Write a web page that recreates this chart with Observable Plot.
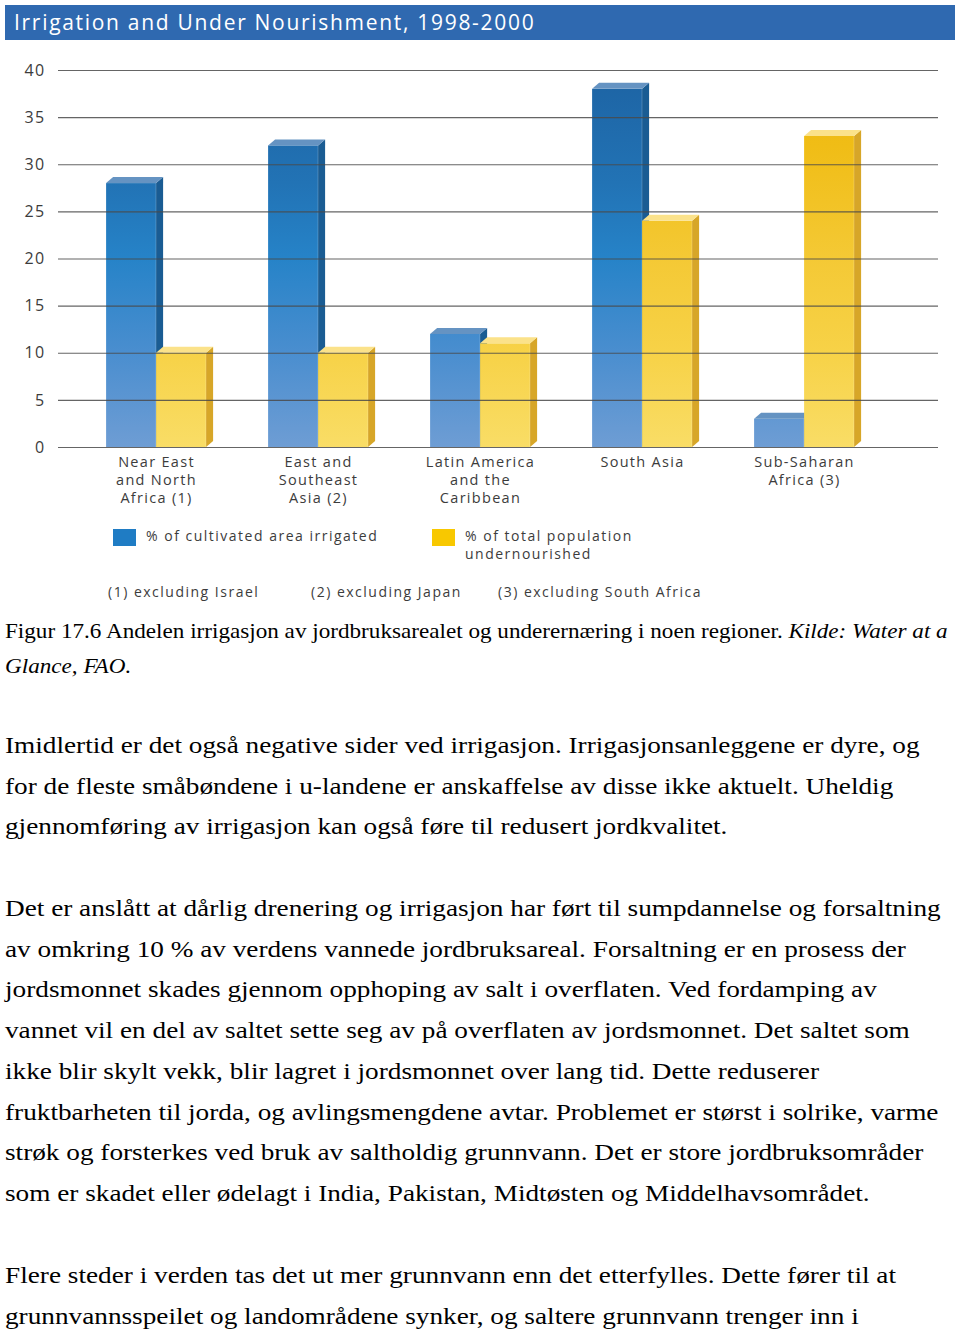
<!DOCTYPE html>
<html>
<head>
<meta charset="utf-8">
<script src="https://cdn.jsdelivr.net/npm/d3@7"></script>
<script src="https://cdn.jsdelivr.net/npm/@observablehq/plot@0.6"></script>
<style>
  html, body { margin: 0; padding: 0; background: #fff; }
  body { width: 960px; height: 1330px; position: relative; overflow: hidden; }
  #title { position: absolute; left: 5px; top: 5px; width: 950px; height: 35px; box-sizing: border-box;
           background: #2f69b0; color: #fff; font-family: "Open Sans", sans-serif; font-size: 21px;
           letter-spacing: 1.7px; line-height: 35px; padding-left: 9px; white-space: nowrap; }
  #chart { position: absolute; left: 0; top: 40px; }
  .lbl { position: absolute; font-family: "Open Sans", sans-serif; font-size: 14px; letter-spacing: 1.5px;
         color: #3c3c3c; line-height: 17px; white-space: nowrap; }
  .sw { position: absolute; width: 23px; height: 17px; }
  .txt { position: absolute; left: 5px; font-family: "Liberation Serif", "Times New Roman", serif; color: #000;
         white-space: nowrap; transform: scaleX(1.135); transform-origin: 0 0; }
  .txt div { white-space: nowrap; }
  .cap { font-size: 20.4px; line-height: 35px; }
  .par { font-size: 24px; line-height: 40.7px; }
</style>
</head>
<body>
<div id="title"></div>
<div id="chart"></div>
<div id="legend"></div>
<div id="notes"></div>
<div id="text"></div>
<script>
// ---------- data ----------
const titleText = "Irrigation and Under Nourishment, 1998-2000";
const regions = [
  "Near East\nand North\nAfrica (1)",
  "East and\nSoutheast\nAsia (2)",
  "Latin America\nand the\nCaribbean",
  "South Asia",
  "Sub-Saharan\nAfrica (3)"
];
const irrigated = [28, 32, 12, 38, 3];        // % of cultivated area irrigated
const undernourished = [10, 10, 11, 24, 33];  // % of total population undernourished
const yTicks = [0, 5, 10, 15, 20, 25, 30, 35, 40];
const seriesNames = ["% of cultivated area irrigated", "% of total population\nundernourished"];
const footnotes = ["(1) excluding Israel", "(2) excluding Japan", "(3) excluding South Africa"];
const captionLines = [
  ["Figur 17.6 Andelen irrigasjon av jordbruksarealet og underernæring i noen regioner. ", "Kilde: Water at a"],
  ["", "Glance, FAO."]
];
const paragraphs = [
  ["Imidlertid er det også negative sider ved irrigasjon. Irrigasjonsanleggene er dyre, og",
   "for de fleste småbøndene i u-landene er anskaffelse av disse ikke aktuelt. Uheldig",
   "gjennomføring av irrigasjon kan også føre til redusert jordkvalitet."],
  ["Det er anslått at dårlig drenering og irrigasjon har ført til sumpdannelse og forsaltning",
   "av omkring 10 % av verdens vannede jordbruksareal. Forsaltning er en prosess der",
   "jordsmonnet skades gjennom opphoping av salt i overflaten. Ved fordamping av",
   "vannet vil en del av saltet sette seg av på overflaten av jordsmonnet. Det saltet som",
   "ikke blir skylt vekk, blir lagret i jordsmonnet over lang tid. Dette reduserer",
   "fruktbarheten til jorda, og avlingsmengdene avtar. Problemet er størst i solrike, varme",
   "strøk og forsterkes ved bruk av saltholdig grunnvann. Det er store jordbruksområder",
   "som er skadet eller ødelagt i India, Pakistan, Midtøsten og Middelhavsområdet."],
  ["Flere steder i verden tas det ut mer grunnvann enn det etterfylles. Dette fører til at",
   "grunnvannsspeilet og landområdene synker, og saltere grunnvann trenger inn i"]
];

// ---------- layout constants ----------
const W = 960, H = 482;
const xRange = [74, 885];
const bw = (xRange[1] - xRange[0]) / regions.length;
const barW = 50, depthX = 7, depthY = -6;

const blueData = regions.map((r, i) => ({region: r, value: irrigated[i]}));
const yellowData = regions.map((r, i) => ({region: r, value: undernourished[i]}));

document.getElementById("title").textContent = titleText;

function gradients(index, scales) {
  const y = scales.y;
  const defs = d3.create("svg:defs");
  const b = defs.append("linearGradient").attr("id", "gBlue").attr("gradientUnits", "userSpaceOnUse")
    .attr("x1", 0).attr("x2", 0).attr("y1", y(40)).attr("y2", y(0));
  [[0, "#1d63a3"], [0.3, "#2273b5"], [0.5, "#2683c8"], [0.75, "#4a8ecf"], [1, "#6e9dd4"]]
    .forEach(([o, c]) => b.append("stop").attr("offset", o).attr("stop-color", c));
  const g = defs.append("linearGradient").attr("id", "gYellow").attr("gradientUnits", "userSpaceOnUse")
    .attr("x1", 0).attr("x2", 0).attr("y1", y(40)).attr("y2", y(0));
  [[0, "#eeb80c"], [0.2, "#f0bd16"], [0.5, "#f4c935"], [0.75, "#f7d247"], [1, "#f9dd66"]]
    .forEach(([o, c]) => g.append("stop").attr("offset", o).attr("stop-color", c));
  return defs.node();
}

function faces(data, offset, sideColor, topColor) {
  return function(index, scales) {
    const x = scales.x, y = scales.y;
    const g = d3.create("svg:g");
    for (const d of data) {
      const x1 = x(d.region) + offset, x2 = x1 + barW;
      const yt = y(d.value), yb = y(0);
      g.append("polygon")
        .attr("points", `${x2},${yt} ${x2 + depthX},${yt + depthY} ${x2 + depthX},${yb + depthY} ${x2},${yb}`)
        .attr("fill", sideColor);
      g.append("polygon")
        .attr("points", `${x1},${yt} ${x1 + depthX},${yt + depthY} ${x2 + depthX},${yt + depthY} ${x2},${yt}`)
        .attr("fill", topColor);
    }
    return g.node();
  };
}

const chart = Plot.plot({
  width: W,
  height: H,
  marginTop: 30,
  marginBottom: 75,
  marginLeft: 58,
  marginRight: 22,
  style: {fontFamily: "'Open Sans', sans-serif", color: "#3c3c3c", background: "transparent", letterSpacing: "1.3px"},
  x: {domain: regions, range: xRange, padding: 0, axis: null},
  y: {domain: [0, 40], axis: null},
  marks: [
    gradients,
    Plot.barY(blueData, {x: "region", y: "value", fill: "url(#gBlue)",
      insetLeft: bw / 2 - barW, insetRight: bw / 2}),
    faces(blueData, bw / 2 - barW, "#1a5c93", "#6593c2"),
    Plot.barY(yellowData, {x: "region", y: "value", fill: "url(#gYellow)",
      insetLeft: bw / 2, insetRight: bw / 2 - barW}),
    faces(yellowData, bw / 2, "#d7a628", "#fbe28a"),
    Plot.ruleY(yTicks, {stroke: "#4a4a4a", strokeWidth: 1.2, strokeOpacity: 0.85}),
    Plot.axisY(yTicks, {tickSize: 0, tickPadding: 13, fontSize: 16, label: null}),
    Plot.axisX({tickSize: 0, tickPadding: 7, fontSize: 14.5, lineHeight: 1.24, label: null,
      style: {letterSpacing: "2px"}})
  ]
});
document.getElementById("chart").appendChild(chart);

// ---------- legend ----------
const legend = document.getElementById("legend");
const swatches = [
  {color: "#1f7cc4", x: 113, tx: 146},
  {color: "#f8c800", x: 432, tx: 465}
];
swatches.forEach((s, i) => {
  const sw = document.createElement("div");
  sw.className = "sw"; sw.style.left = s.x + "px"; sw.style.top = "529px"; sw.style.background = s.color;
  legend.appendChild(sw);
  seriesNames[i].split("\n").forEach((line, j) => {
    const t = document.createElement("div");
    t.className = "lbl"; t.textContent = line;
    t.style.left = s.tx + "px"; t.style.top = (527 + j * 18) + "px";
    legend.appendChild(t);
  });
});

// ---------- footnotes ----------
const notes = document.getElementById("notes");
[108, 311, 498].forEach((x, i) => {
  const t = document.createElement("div");
  t.className = "lbl"; t.textContent = footnotes[i];
  t.style.left = x + "px"; t.style.top = "583px";
  notes.appendChild(t);
});

// ---------- text below ----------
const text = document.getElementById("text");
const cap = document.createElement("div");
cap.className = "txt cap"; cap.style.top = "614px";
captionLines.forEach(([normal, italic]) => {
  const line = document.createElement("div");
  if (normal) line.appendChild(document.createTextNode(normal));
  const it = document.createElement("i"); it.textContent = italic; line.appendChild(it);
  cap.appendChild(line);
});
text.appendChild(cap);
const parTops = [725, 888, 1255];
paragraphs.forEach((lines, k) => {
  const p = document.createElement("div");
  p.className = "txt par"; p.style.top = parTops[k] + "px";
  lines.forEach(l => { const d = document.createElement("div"); d.textContent = l; p.appendChild(d); });
  text.appendChild(p);
});
</script>
</body>
</html>
